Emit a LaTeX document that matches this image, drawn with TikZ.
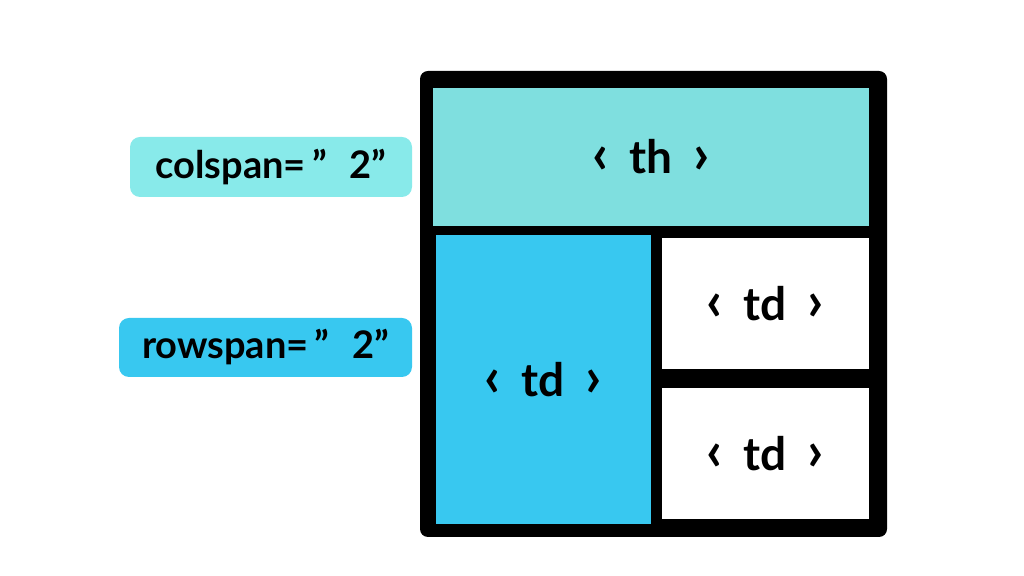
\documentclass[tikz,border=0pt]{standalone}
\usepackage{fontspec}
\setmainfont{Lato}
\definecolor{thcyan}{HTML}{7FDFDF}
\definecolor{tagcyan}{HTML}{88EAEA}
\definecolor{tdblue}{HTML}{38C8F0}
\newcommand{\celltag}[1]{{\fontsize{28}{28}\selectfont‹}\hspace{0.45em}#1\hspace{0.45em}{\fontsize{28}{28}\selectfont›}}

\begin{document}
\begin{tikzpicture}[x=0.5pt,y=-0.5pt]
    \tikzset{%
      cell/.style={rectangle, inner sep=0pt, font=\bfseries\fontsize{23}{25}\selectfont},
      tag/.style={rectangle, rounded corners=5pt, inner sep=0pt, minimum height=30pt,
        font=\bfseries\fontsize{19}{21}\selectfont},
    }
    \useasboundingbox (0,0) rectangle (1024,576);
    % table frame
    \node[fill=black, rounded corners=4pt, minimum width=233.5pt, minimum height=233pt, inner sep=0pt] (T) at (653.5,304) {};
    \node[cell, fill=thcyan, minimum width=218pt, minimum height=69pt] (TH) at (651,157) {\celltag{th}};
    \node[cell, fill=tdblue, minimum width=107.5pt, minimum height=144.5pt] (TD0) at (543.5,379.5) {\celltag{td}};
    \node[cell, fill=white, minimum width=103.5pt, minimum height=65.5pt] (TD1) at (765.5,303.5) {\celltag{td}};
    \node[cell, fill=white, minimum width=103.5pt, minimum height=65.5pt] (TD2) at (765.5,453.5) {\celltag{td}};
    % attribute tags
    \node[tag, fill=tagcyan, minimum width=141pt] (C) at (271,167) {colspan=\,”\hspace{0.6em}2”};
    \node[tag, fill=tdblue, minimum width=146.5pt, minimum height=29.5pt] (R) at (265.5,347.5) {rowspan=\,”\hspace{0.6em}2”};
\end{tikzpicture}
\end{document}
